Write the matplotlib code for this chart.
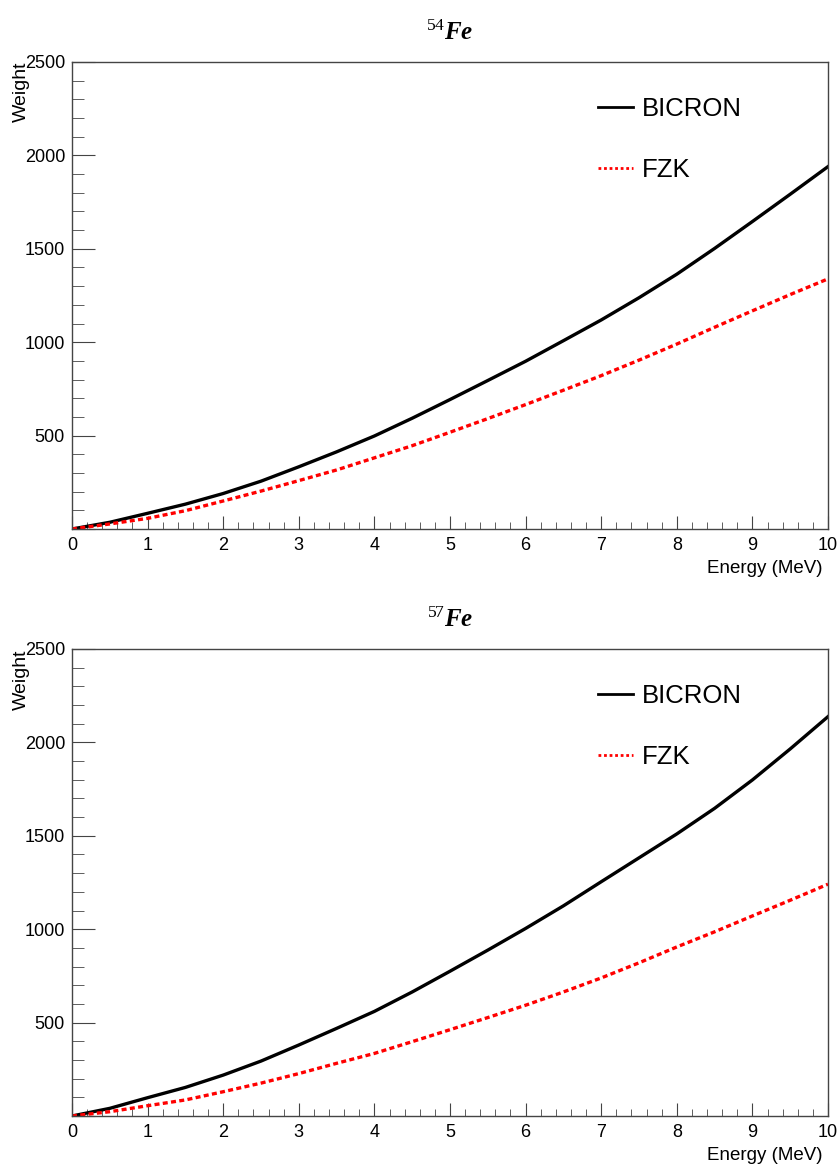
import numpy as np
import matplotlib.pyplot as plt
from matplotlib.lines import Line2D
from matplotlib.ticker import MultipleLocator, FuncFormatter

# energy grid (MeV)
energy = [0, 0.5, 1, 1.5, 2, 2.5, 3, 3.5, 4, 4.5, 5, 5.5, 6, 6.5, 7, 7.5, 8, 8.5, 9, 9.5, 10]

# 54Fe
fe54_bicron = [0, 36, 84, 133, 190, 256, 333, 413, 498, 593, 693, 795, 898, 1008, 1119, 1238, 1364, 1502, 1646, 1792, 1940]
fe54_fzk = [0, 27, 57, 98, 150, 203, 259, 316, 381, 446, 518, 591, 666, 743, 821, 904, 990, 1080, 1168, 1255, 1339]

# 57Fe
fe57_bicron = [0, 41, 98, 153, 219, 294, 380, 469, 560, 664, 775, 888, 1004, 1125, 1254, 1382, 1510, 1647, 1799, 1965, 2138]
fe57_fzk = [0, 23, 55, 86, 130, 176, 227, 282, 335, 398, 462, 527, 593, 664, 739, 820, 905, 986, 1071, 1155, 1241]

panels = [
    ('54', fe54_bicron, fe54_fzk),
    ('57', fe57_bicron, fe57_fzk),
]

plt.rcParams['font.family'] = ['Liberation Sans', 'DejaVu Sans']
plt.rcParams['mathtext.fontset'] = 'custom'
plt.rcParams['mathtext.rm'] = 'Liberation Serif'
plt.rcParams['mathtext.it'] = 'Liberation Serif:italic'

fig = plt.figure(figsize=(8.4, 11.69), dpi=100)
W, H = 840, 1169
frames = [(72, 62, 828, 529), (72, 649, 828, 1116)]

for (iso, bic, fzk), (x0, y0, x1, y1) in zip(panels, frames):
    ax = fig.add_axes([x0 / W, 1 - y1 / H, (x1 - x0) / W, (y1 - y0) / H])
    ax.plot(energy, bic, color='black', lw=2.4)
    ax.plot(energy, fzk, color='red', lw=2.4, ls=(0, (1.5, 1.0)))

    ax.set_xlim(0, 10)
    ax.set_ylim(0, 2500)
    ax.xaxis.set_major_locator(MultipleLocator(1))
    ax.xaxis.set_minor_locator(MultipleLocator(0.2))
    ax.yaxis.set_major_locator(MultipleLocator(500))
    ax.yaxis.set_minor_locator(MultipleLocator(100))
    ax.yaxis.set_major_formatter(FuncFormatter(lambda v, p: '' if v == 0 else '%d' % v))
    ax.tick_params(which='both', direction='in', top=False, right=False,
                   color='#444444', labelsize=13)
    ax.tick_params(axis='x', which='major', length=9.5, pad=6)
    ax.tick_params(axis='x', which='minor', length=5)
    ax.tick_params(axis='y', which='major', length=16.5, pad=5)
    ax.tick_params(axis='y', which='minor', length=8.5)
    for s in ax.spines.values():
        s.set_color('#444444')
        s.set_linewidth(1)

    ax.set_xlabel('Energy (MeV)', fontsize=13.5, loc='right', labelpad=4)
    ax.xaxis.label.set_position((0.993, 0))
    ax.set_ylabel('Weight', fontsize=14, loc='top', labelpad=-4)

    ax.set_title(r'$^{%s}$Fe' % iso, family='Liberation Serif', fontweight='bold',
                 fontstyle='italic', fontsize=18, pad=16)

    handles = [Line2D([], [], color='black', lw=2),
               Line2D([], [], color='red', lw=2, ls=(0, (1, 1)))]
    ax.legend(handles, ['BICRON', 'FZK'], loc='upper left',
              bbox_to_anchor=(0.665, 0.975), frameon=False,
              fontsize=18.5, handlelength=1.35, handletextpad=0.35, labelspacing=1.45)

fig.savefig('out.png', dpi=100)
